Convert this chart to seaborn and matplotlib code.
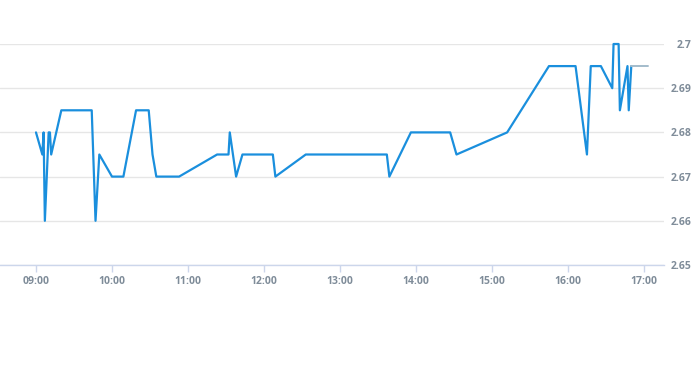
import matplotlib
matplotlib.use("Agg")
import matplotlib.pyplot as plt
import matplotlib.dates as mdates
import seaborn as sns
import pandas as pd

# ---- data ----
times = ["09:00", "09:05", "09:06", "09:07", "09:10", "09:11", "09:12", "09:20",
         "09:44", "09:47", "09:50", "10:00", "10:09", "10:19", "10:29", "10:32",
         "10:35", "10:53", "11:23", "11:32", "11:33", "11:38", "11:43", "12:07",
         "12:09", "12:33", "13:37", "13:39", "13:56", "14:27", "14:32", "15:12",
         "15:45", "16:06", "16:15", "16:18", "16:26", "16:35", "16:36", "16:40",
         "16:41", "16:47", "16:48", "16:50"]
prices = [2.68, 2.675, 2.68, 2.66, 2.68, 2.68, 2.675, 2.685,
          2.685, 2.66, 2.675, 2.67, 2.67, 2.685, 2.685, 2.675,
          2.67, 2.67, 2.675, 2.675, 2.68, 2.67, 2.675, 2.675,
          2.67, 2.675, 2.675, 2.67, 2.68, 2.68, 2.675, 2.68,
          2.695, 2.695, 2.675, 2.695, 2.695, 2.69, 2.70, 2.70,
          2.685, 2.695, 2.685, 2.695]
tail_times = ["16:50", "17:03"]
tail_prices = [2.695, 2.695]
y_ticks = [2.65, 2.66, 2.67, 2.68, 2.69, 2.70]
y_labels = ["2.65", "2.66", "2.67", "2.68", "2.69", "2.7"]
x_ticks = ["09:00", "10:00", "11:00", "12:00", "13:00", "14:00", "15:00", "16:00", "17:00"]

day = "2024-01-02 "
df = pd.DataFrame({"time": pd.to_datetime([day + t for t in times]), "price": prices})
tail = pd.DataFrame({"time": pd.to_datetime([day + t for t in tail_times]), "price": tail_prices})

sns.set_theme(style="white")
plt.rcParams["font.family"] = ["Open Sans", "DejaVu Sans"]

fig = plt.figure(figsize=(6.93, 3.65), dpi=100)
ax = fig.add_axes([0.0, 1 - 265 / 365, 664 / 693, 221 / 365])

sns.lineplot(data=df, x="time", y="price", ax=ax, color="#1a8fdd", linewidth=1.6)
sns.lineplot(data=tail, x="time", y="price", ax=ax, color="#a3bccb", linewidth=1.4)
for ln in ax.get_lines():
    ln.set_clip_on(False)

ax.set_ylim(2.65, 2.70)
ax.set_xlim(pd.Timestamp(day + "08:31:35"), pd.Timestamp(day + "17:15:50"))
ax.set_yticks(y_ticks)
ax.set_yticklabels(y_labels)
ax.set_xticks(pd.to_datetime([day + t for t in x_ticks]))
ax.xaxis.set_major_formatter(mdates.DateFormatter("%H:%M"))

ax.grid(axis="y", color="#e6e6e6", linewidth=1)
ax.grid(axis="x", visible=False)
for s in ["top", "left", "right"]:
    ax.spines[s].set_visible(False)
ax.spines["bottom"].set_color("#ccd6eb")
ax.spines["bottom"].set_linewidth(1)

ax.yaxis.tick_right()
ax.tick_params(axis="y", length=0, pad=20, labelcolor="#7f8c99", labelsize=7.5)
ax.tick_params(axis="x", length=5, width=1, color="#ccd6eb", pad=3,
               labelcolor="#7f8c99", labelsize=7.5, bottom=True)
for lab in ax.get_xticklabels() + ax.get_yticklabels():
    lab.set_fontweight("bold")
for lab in ax.get_yticklabels():
    lab.set_horizontalalignment("right")
ax.set_xlabel("")
ax.set_ylabel("")

fig.savefig("out.png", dpi=100)
